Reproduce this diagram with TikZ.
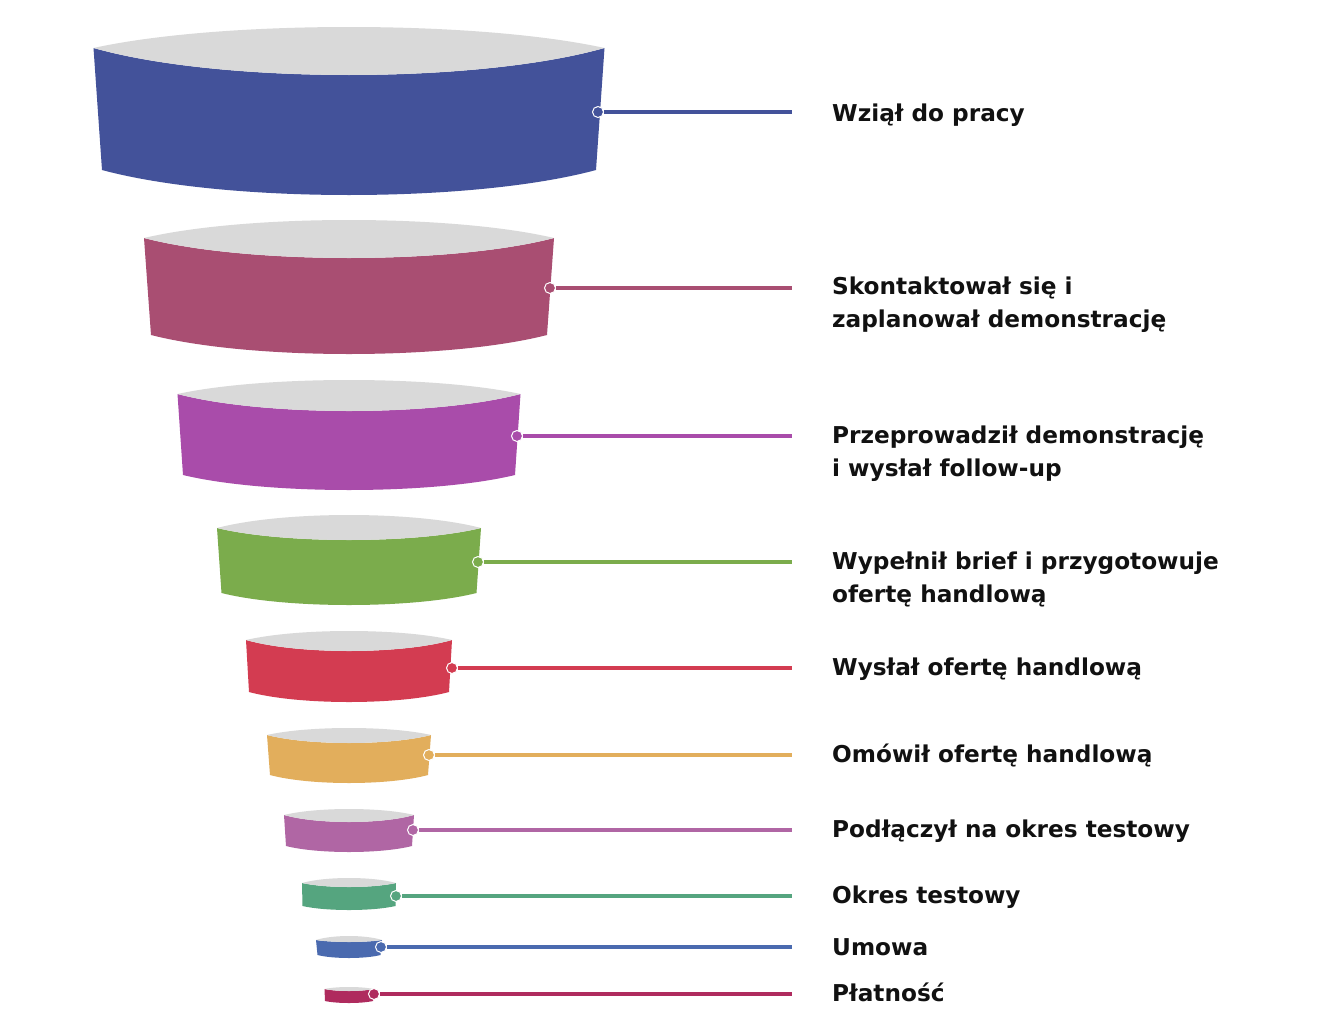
\documentclass[tikz,border=0pt]{standalone}
\usepackage{fontspec}
\newfontfamily\lblfont{DejaVu Sans}
\definecolor{c1}{HTML}{43529A}
\definecolor{c2}{HTML}{A94E72}
\definecolor{c3}{HTML}{A94CAA}
\definecolor{c4}{HTML}{7BAC4C}
\definecolor{c5}{HTML}{D33C51}
\definecolor{c6}{HTML}{E2AE5C}
\definecolor{c7}{HTML}{B066A4}
\definecolor{c8}{HTML}{55A57F}
\definecolor{c9}{HTML}{4A6AAF}
\definecolor{c10}{HTML}{AF2B5E}
\definecolor{topgray}{HTML}{D9D9D9}
\definecolor{txt}{HTML}{111111}
% wt, apex, yc, ygb, wb, ybc, ybb, colour
\newcommand\fseg[8]{%
  \fill[#8] ({349-#1},#3) .. controls ({349-0.5*#1},{#3+(#4-#3)*4/3}) and ({349+0.5*#1},{#3+(#4-#3)*4/3}) .. ({349+#1},#3)
    -- ({349+#5},#6) .. controls ({349+0.5*#5},{#6+(#7-#6)*4/3}) and ({349-0.5*#5},{#6+(#7-#6)*4/3}) .. ({349-#5},#6) -- cycle;
  \fill[topgray] ({349-#1},#3) .. controls ({349-0.5*#1},{#3+(#2-#3)*4/3}) and ({349+0.5*#1},{#3+(#2-#3)*4/3}) .. ({349+#1},#3)
    .. controls ({349+0.5*#1},{#3+(#4-#3)*4/3}) and ({349-0.5*#1},{#3+(#4-#3)*4/3}) .. ({349-#1},#3) -- cycle;
}
\newcommand\twolines[2]{\vtop{\hbox{#1}\hbox{#2}}}
\begin{document}
\begin{tikzpicture}[x=1pt,y=-1pt,
  dotnode/.style={circle, inner sep=0pt, minimum size=11pt, draw=white, line width=1pt},
  conn/.style={line width=3.5pt},
  lbl/.style={anchor=base west, inner sep=0pt, text=txt,
    font={\lblfont\bfseries\fontsize{23.2}{33.5}\selectfont}}]
\fill[white] (0,0) rectangle (1320,1036);
\useasboundingbox (0,0) rectangle (1320,1036);

\fseg{255.5}{27}{48}{75}{247}{170}{195}{c1}
\fseg{205}{220}{238}{258}{198}{335}{354}{c2}
\fseg{171.5}{380}{394}{411}{166}{475}{490}{c3}
\fseg{132}{515}{528}{540}{127.5}{593}{605}{c4}
\fseg{103}{631}{640}{651}{100}{692}{702}{c5}
\fseg{82}{728}{735}{743}{79}{775}{783}{c6}
\fseg{65}{809}{815}{822}{63}{846}{852}{c7}
\fseg{47}{878}{883}{887}{46.5}{906}{910}{c8}
\fseg{33}{936}{940}{942}{31.5}{955}{958}{c9}
\fseg{24.5}{987}{989}{991}{24}{1001}{1003}{c10}

\node[dotnode, fill=c1] (d1) at (598,112) {};
\node[dotnode, fill=c2] (d2) at (550,288) {};
\node[dotnode, fill=c3] (d3) at (517,436) {};
\node[dotnode, fill=c4] (d4) at (478,562) {};
\node[dotnode, fill=c5] (d5) at (452,668) {};
\node[dotnode, fill=c6] (d6) at (429,755) {};
\node[dotnode, fill=c7] (d7) at (413,830) {};
\node[dotnode, fill=c8] (d8) at (396,896) {};
\node[dotnode, fill=c9] (d9) at (381,947) {};
\node[dotnode, fill=c10] (d10) at (374,994) {};

\coordinate (e1) at (792,112);
\coordinate (e2) at (792,288);
\coordinate (e3) at (792,436);
\coordinate (e4) at (792,562);
\coordinate (e5) at (792,668);
\coordinate (e6) at (792,755);
\coordinate (e7) at (792,830);
\coordinate (e8) at (792,896);
\coordinate (e9) at (792,947);
\coordinate (e10) at (792,994);

\draw[conn, c1] (d1) -- (e1);
\draw[conn, c2] (d2) -- (e2);
\draw[conn, c3] (d3) -- (e3);
\draw[conn, c4] (d4) -- (e4);
\draw[conn, c5] (d5) -- (e5);
\draw[conn, c6] (d6) -- (e6);
\draw[conn, c7] (d7) -- (e7);
\draw[conn, c8] (d8) -- (e8);
\draw[conn, c9] (d9) -- (e9);
\draw[conn, c10] (d10) -- (e10);

\node[lbl] (l1) at (832,121) {Wziął do pracy};
\node[lbl] (l2) at (832,294) {\twolines{Skontaktował się i}{zaplanował demonstrację}};
\node[lbl] (l3) at (832,443) {\twolines{Przeprowadził demonstrację}{i wysłał follow-up}};
\node[lbl] (l4) at (832,569) {\twolines{Wypełnił brief i przygotowuje}{ofertę handlową}};
\node[lbl] (l5) at (832,675) {Wysłał ofertę handlową};
\node[lbl] (l6) at (832,762) {Omówił ofertę handlową};
\node[lbl] (l7) at (832,837) {Podłączył na okres testowy};
\node[lbl] (l8) at (832,903.5) {Okres testowy};
\node[lbl] (l9) at (832,955.5) {Umowa};
\node[lbl] (l10) at (832,1001.5) {Płatność};
\end{tikzpicture}
\end{document}
